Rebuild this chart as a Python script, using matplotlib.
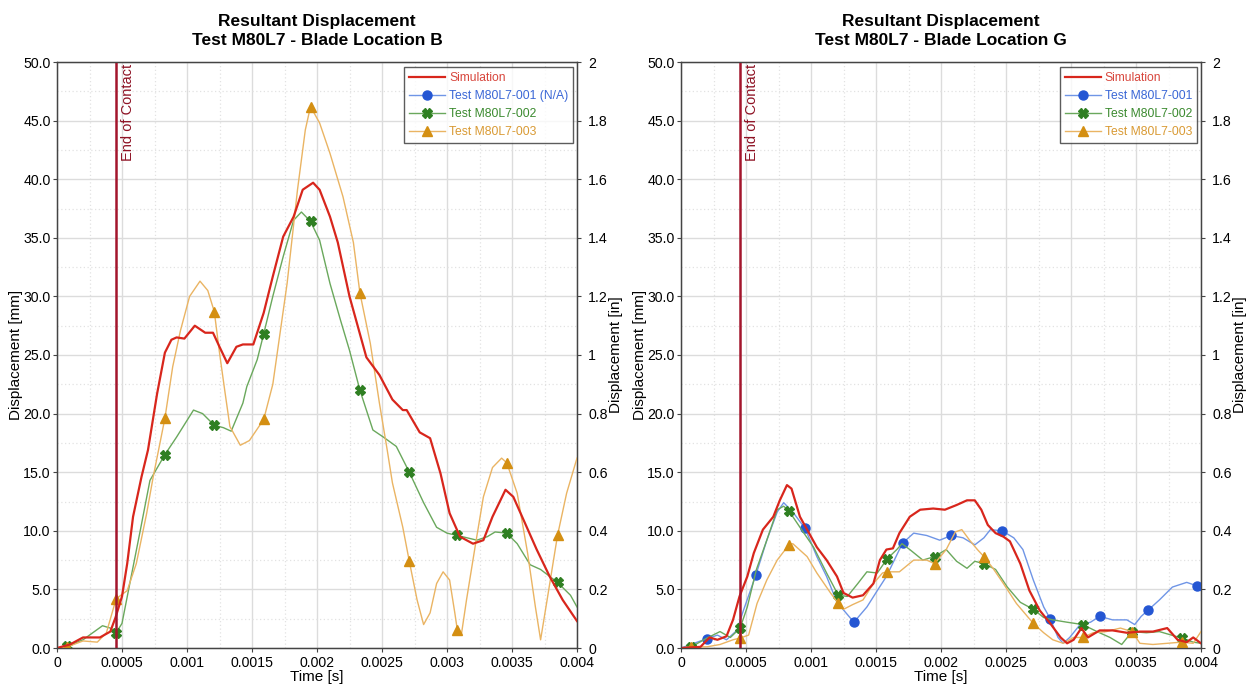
import numpy as np
import matplotlib
matplotlib.use("Agg")
import matplotlib.pyplot as plt
from matplotlib.ticker import MultipleLocator, FuncFormatter

plt.rcParams['font.family'] = ['Liberation Sans', 'DejaVu Sans']

# ---------------- Blade Location B (times in ms, displacement in mm) ----------------
b_sim_t = [0, 0.1, 0.2, 0.33, 0.41, 0.45, 0.5, 0.54, 0.585, 0.65, 0.70, 0.77, 0.83, 0.88, 0.92,
           0.98, 1.06, 1.14, 1.2, 1.25, 1.31, 1.38, 1.43, 1.51, 1.59, 1.66, 1.74, 1.82, 1.89,
           1.97, 2.02, 2.1, 2.16, 2.25, 2.38, 2.48, 2.58, 2.66, 2.69, 2.79, 2.87, 2.95, 3.02,
           3.1, 3.2, 3.28, 3.35, 3.45, 3.51, 3.59, 3.69, 3.79, 3.89, 4.0]
b_sim_v = [0, 0.3, 0.9, 0.9, 1.4, 2.6, 4.4, 7.2, 11.2, 14.6, 16.9, 21.7, 25.2, 26.3, 26.5,
           26.4, 27.5, 26.9, 26.9, 25.7, 24.3, 25.7, 25.9, 25.9, 28.6, 31.7, 35.1, 36.8, 39.1,
           39.7, 39.1, 36.8, 34.6, 30.0, 24.8, 23.3, 21.2, 20.3, 20.3, 18.4, 17.9, 14.9, 11.5,
           9.5, 8.9, 9.2, 11.2, 13.5, 12.9, 10.9, 8.4, 6.1, 4.1, 2.3]

b_t2_t = [0, 0.08, 0.2, 0.35, 0.41, 0.455, 0.5, 0.56, 0.64, 0.715, 0.83, 0.92, 1.05, 1.12, 1.21,
          1.28, 1.34, 1.43, 1.46, 1.54, 1.59, 1.66, 1.74, 1.82, 1.88, 1.95, 2.02, 2.1, 2.18,
          2.25, 2.33, 2.43, 2.51, 2.61, 2.71, 2.82, 2.92, 3.0, 3.08, 3.23, 3.31, 3.37, 3.46,
          3.54, 3.64, 3.72, 3.85, 3.95, 4.0]
b_t2_v = [0, 0.15, 0.7, 1.9, 1.7, 1.3, 2.1, 5.5, 10.0, 14.3, 16.5, 18.0, 20.3, 20.0, 19.0,
          18.8, 18.5, 20.9, 22.3, 24.6, 26.8, 30.0, 33.4, 36.5, 37.2, 36.4, 34.8, 31.1, 28.0,
          25.4, 22.0, 18.6, 18.0, 17.2, 15.0, 12.4, 10.3, 9.8, 9.6, 9.2, 9.5, 9.9, 9.8,
          8.9, 7.1, 6.7, 5.6, 4.5, 3.5]

b_t3_t = [0, 0.08, 0.2, 0.31, 0.38, 0.455, 0.54, 0.61, 0.69, 0.74, 0.83, 0.89, 0.95, 1.02, 1.1,
          1.16, 1.21, 1.25, 1.29, 1.33, 1.41, 1.48, 1.59, 1.66, 1.77, 1.85, 1.91, 1.95, 2.02,
          2.1, 2.2, 2.28, 2.33, 2.41, 2.48, 2.54, 2.58, 2.66, 2.71, 2.77, 2.82, 2.87, 2.92,
          2.97, 3.02, 3.06, 3.08, 3.11, 3.15, 3.22, 3.28, 3.35, 3.42, 3.46, 3.54, 3.62, 3.68,
          3.72, 3.77, 3.85, 3.92, 4.0]
b_t3_v = [0, 0.1, 0.6, 0.5, 1.3, 4.2, 4.9, 7.2, 11.5, 14.6, 19.6, 24.0, 27.1, 30.0, 31.3,
          30.5, 28.7, 25.2, 22.0, 18.9, 17.3, 17.7, 19.5, 22.5, 31.1, 39.1, 44.2, 46.2, 44.8,
          42.2, 38.5, 34.6, 30.3, 26.0, 20.9, 16.9, 14.1, 10.3, 7.4, 4.1, 2.0, 3.0, 5.5,
          6.5, 5.8, 3.0, 1.5, 1.1, 4.1, 8.9, 12.9, 15.4, 16.2, 15.8, 13.2, 8.1, 3.5,
          0.7, 4.1, 9.6, 13.2, 16.2]

# ---------------- Blade Location G ----------------
g_sim_t = [0, 0.15, 0.22, 0.28, 0.35, 0.4, 0.45, 0.51, 0.56, 0.63, 0.71, 0.76, 0.815, 0.85, 0.915,
           0.97, 1.045, 1.12, 1.2, 1.25, 1.32, 1.4, 1.48, 1.53, 1.58, 1.63, 1.68, 1.76, 1.84,
           1.94, 2.03, 2.12, 2.2, 2.26, 2.31, 2.36, 2.42, 2.48, 2.53, 2.61, 2.68, 2.76, 2.84,
           2.92, 2.97, 3.02, 3.08, 3.13, 3.22, 3.32, 3.43, 3.53, 3.63, 3.74, 3.82, 3.89, 3.94, 4.0]
g_sim_v = [0, 0.1, 0.9, 0.7, 1.0, 2.4, 4.4, 6.1, 8.1, 10.1, 11.2, 12.6, 13.9, 13.6, 11.2,
           10.1, 8.6, 7.5, 6.1, 4.7, 4.3, 4.5, 5.5, 7.5, 8.4, 8.5, 9.8, 11.2, 11.8,
           11.9, 11.8, 12.2, 12.6, 12.6, 11.8, 10.5, 9.8, 9.5, 9.1, 7.2, 4.9, 3.2, 2.1,
           0.9, 0.4, 0.7, 1.7, 0.9, 1.5, 1.5, 1.3, 1.4, 1.4, 1.7, 0.7, 0.5, 0.9, 0.4]

g_t1_t = [0, 0.2, 0.28, 0.35, 0.43, 0.48, 0.575, 0.66, 0.74, 0.79, 0.86, 0.955, 1.045, 1.12, 1.2,
          1.33, 1.43, 1.51, 1.58, 1.68, 1.71, 1.79, 1.89, 1.99, 2.08, 2.17, 2.26, 2.33, 2.38,
          2.47, 2.56, 2.63, 2.71, 2.79, 2.84, 2.9, 2.94, 2.99, 3.07, 3.15, 3.22, 3.32, 3.43,
          3.49, 3.54, 3.59, 3.68, 3.78, 3.89, 3.97, 4.0]
g_t1_v = [0, 0.8, 1.1, 0.7, 1.5, 3.2, 6.2, 9.2, 11.6, 12.4, 11.6, 10.2, 7.8, 6.1, 3.9,
          2.2, 3.5, 4.9, 6.1, 8.4, 9.0, 9.8, 9.6, 9.2, 9.6, 9.4, 8.8, 9.4, 10.1,
          10.0, 9.4, 8.4, 5.8, 3.5, 2.5, 0.9, 0.4, 0.9, 2.0, 2.2, 2.7, 2.4, 2.4,
          2.0, 2.7, 3.2, 4.1, 5.2, 5.6, 5.3, 4.9]

g_t2_t = [0, 0.08, 0.2, 0.3, 0.38, 0.455, 0.51, 0.58, 0.66, 0.74, 0.79, 0.83, 0.915, 1.02, 1.12,
          1.21, 1.28, 1.36, 1.43, 1.51, 1.585, 1.66, 1.70, 1.76, 1.86, 1.95, 2.04, 2.12, 2.2,
          2.26, 2.33, 2.42, 2.51, 2.61, 2.71, 2.79, 2.86, 2.97, 3.09, 3.2, 3.3, 3.39, 3.47,
          3.58, 3.68, 3.85, 3.94, 4.0]
g_t2_v = [0, 0.1, 0.85, 1.4, 0.9, 1.7, 3.5, 6.7, 9.2, 11.8, 12.1, 11.7, 10.3, 8.6, 6.4,
          4.5, 4.4, 5.5, 6.5, 6.4, 7.6, 8.4, 8.9, 8.4, 7.5, 7.8, 8.4, 7.4, 6.8,
          7.4, 7.2, 6.7, 5.2, 3.9, 3.3, 2.6, 2.4, 2.2, 2.0, 1.4, 0.9, 0.3, 1.4,
          1.3, 1.4, 0.85, 0.5, 0.4]

g_t3_t = [0, 0.08, 0.2, 0.3, 0.4, 0.455, 0.52, 0.585, 0.66, 0.74, 0.83, 0.86, 0.97, 1.045, 1.15,
          1.21, 1.25, 1.32, 1.4, 1.48, 1.55, 1.585, 1.68, 1.79, 1.89, 1.95, 2.04, 2.11, 2.16,
          2.22, 2.28, 2.33, 2.4, 2.48, 2.58, 2.71, 2.79, 2.86, 2.94, 3.02, 3.09, 3.17, 3.27,
          3.38, 3.47, 3.53, 3.63, 3.74, 3.85, 3.94, 4.0]
g_t3_v = [0, 0.1, 0.1, 0.3, 0.7, 0.85, 1.1, 3.8, 5.8, 7.5, 8.8, 8.9, 7.8, 6.4, 4.7,
          3.8, 3.3, 3.7, 4.1, 5.5, 6.4, 6.5, 6.5, 7.5, 7.5, 7.2, 8.4, 9.9, 10.1,
          9.2, 8.4, 7.8, 6.8, 5.5, 3.8, 2.1, 1.3, 0.7, 0.4, 0.9, 0.9, 1.3, 1.4,
          1.7, 1.4, 0.4, 0.3, 0.4, 0.5, 0.4, 1.4]

# Times (ms) at which the test-channel symbols are shown
b_mark_t = [0.08, 0.455, 0.83, 1.21, 1.59, 1.95, 2.33, 2.71, 3.08, 3.46, 3.85]
g_mark_t = [0.08, 0.455, 0.83, 1.21, 1.585, 1.95, 2.33, 2.71, 3.09, 3.47, 3.85]
g_mark_t1 = [0.2, 0.575, 0.955, 1.33, 1.71, 2.08, 2.47, 2.84, 3.22, 3.59, 3.97]

end_of_contact_ms = 0.455

panels = [
    dict(title="Resultant Displacement\nTest M80L7 - Blade Location B",
         sim=(b_sim_t, b_sim_v), t1=None, t2=(b_t2_t, b_t2_v), t3=(b_t3_t, b_t3_v),
         m1=None, m23=b_mark_t, t1_label="Test M80L7-001 (N/A)"),
    dict(title="Resultant Displacement\nTest M80L7 - Blade Location G",
         sim=(g_sim_t, g_sim_v), t1=(g_t1_t, g_t1_v), t2=(g_t2_t, g_t2_v), t3=(g_t3_t, g_t3_v),
         m1=g_mark_t1, m23=g_mark_t, t1_label="Test M80L7-001"),
]

C_SIM = "#d8261c"
C_T1_LINE, C_T1_MARK = "#6f95e6", "#2456d3"
C_T2_LINE, C_T2_MARK = "#6aa85c", "#2f7f22"
C_T3_LINE, C_T3_MARK = "#eab463", "#d48f12"
C_EOC = "#a3152c"
GRID_MAJOR = "#dcdcdc"
GRID_MINOR = "#e2e2e2"


def mark_idx(times, marks):
    times = np.asarray(times)
    return [int(np.argmin(np.abs(times - m))) for m in marks]


def sec(ms):
    return np.asarray(ms) * 1e-3


fig = plt.figure(figsize=(12.55, 6.88), dpi=100)
W, H = 1255, 688
lefts = [57, 681]

for left_px, p in zip(lefts, panels):
    ax = fig.add_axes([left_px / W, (H - 648) / H, 520 / W, 586 / H])

    ax.set_xlim(0, 0.004)
    ax.set_ylim(0, 50)
    ax.xaxis.set_major_locator(MultipleLocator(0.0005))
    ax.xaxis.set_minor_locator(MultipleLocator(0.00025))
    ax.yaxis.set_major_locator(MultipleLocator(5))
    ax.yaxis.set_minor_locator(MultipleLocator(2.5))
    ax.xaxis.set_major_formatter(FuncFormatter(lambda v, pos: "0" if abs(v) < 1e-12 else ("%g" % round(v, 6))))
    ax.yaxis.set_major_formatter(FuncFormatter(lambda v, pos: "%.1f" % v))
    ax.grid(which="major", color=GRID_MAJOR, lw=1.0, ls="-")
    ax.grid(which="minor", color=GRID_MINOR, lw=0.9, ls=(0, (1, 2)))
    ax.set_axisbelow(True)
    ax.tick_params(which="major", direction="out", length=3, pad=1.5, labelsize=10.2, color="#444444")
    ax.tick_params(axis="x", pad=2.5)
    ax.tick_params(which="minor", length=0)
    for s in ax.spines.values():
        s.set_color("#444444")
        s.set_linewidth(1.0)

    handles = []
    h_sim, = ax.plot([], [], color=C_SIM, lw=1.6, label="Simulation")
    handles.append(h_sim)

    if p["t1"] is not None:
        t, v = p["t1"]
        h1, = ax.plot(sec(t), v, color=C_T1_LINE, lw=1.0, marker="o", ms=6.5,
                      mfc=C_T1_MARK, mec=C_T1_MARK, markevery=mark_idx(t, p["m1"]),
                      label=p["t1_label"], zorder=3)
    else:
        h1, = ax.plot([], [], color=C_T1_LINE, lw=1.0, marker="o", ms=6.5,
                      mfc=C_T1_MARK, mec=C_T1_MARK, label=p["t1_label"])
    handles.append(h1)

    t, v = p["t2"]
    h2, = ax.plot(sec(t), v, color=C_T2_LINE, lw=1.0, marker="X", ms=6.5,
                  mfc=C_T2_MARK, mec=C_T2_MARK, markevery=mark_idx(t, p["m23"]),
                  label="Test M80L7-002", zorder=3)
    handles.append(h2)

    t, v = p["t3"]
    h3, = ax.plot(sec(t), v, color=C_T3_LINE, lw=1.0, marker="^", ms=6.5,
                  mfc=C_T3_MARK, mec=C_T3_MARK, markevery=mark_idx(t, p["m23"]),
                  label="Test M80L7-003", zorder=3)
    handles.append(h3)

    t, v = p["sim"]
    ax.plot(sec(t), v, color=C_SIM, lw=1.6, zorder=4)

    eoc = end_of_contact_ms * 1e-3
    ax.axvline(eoc, color=C_EOC, lw=1.8, zorder=5)
    ax.text(eoc + 0.00004, 49.8, "End of Contact", rotation=90, ha="left", va="top",
            color="#8e1224", fontsize=10.5, zorder=6)

    ax.set_title(p["title"], fontsize=12.5, fontweight="bold", pad=12, linespacing=1.4)
    ax.set_xlabel("Time [s]", fontsize=11, labelpad=0)
    ax.set_ylabel("Displacement [mm]", fontsize=11, labelpad=0)

    leg = ax.legend(handles=handles, loc="upper right", bbox_to_anchor=(0.997, 0.995),
                    fontsize=8.7, frameon=True, fancybox=False, edgecolor="#333333",
                    handlelength=3.0, handletextpad=0.3, borderpad=0.4, labelspacing=0.5,
                    borderaxespad=0.2)
    leg.get_frame().set_linewidth(1.0)
    text_colors = ["#d8473d", "#3a67d6", "#3b8a2f", "#d99a34"]
    for txt, c in zip(leg.get_texts(), text_colors):
        txt.set_color(c)

    ax2 = ax.twinx()
    ax2.set_ylim(0, 2)
    ax2.yaxis.set_major_locator(MultipleLocator(0.2))
    ax2.yaxis.set_major_formatter(FuncFormatter(lambda v, pos: "%g" % round(v, 3)))
    ax2.tick_params(direction="out", length=3, pad=5, labelsize=10.2, color="#444444")
    ax2.set_ylabel("Displacement [in]", fontsize=11, labelpad=1)
    for s in ax2.spines.values():
        s.set_color("#444444")

fig.savefig("out.png", dpi=100, facecolor="white")
